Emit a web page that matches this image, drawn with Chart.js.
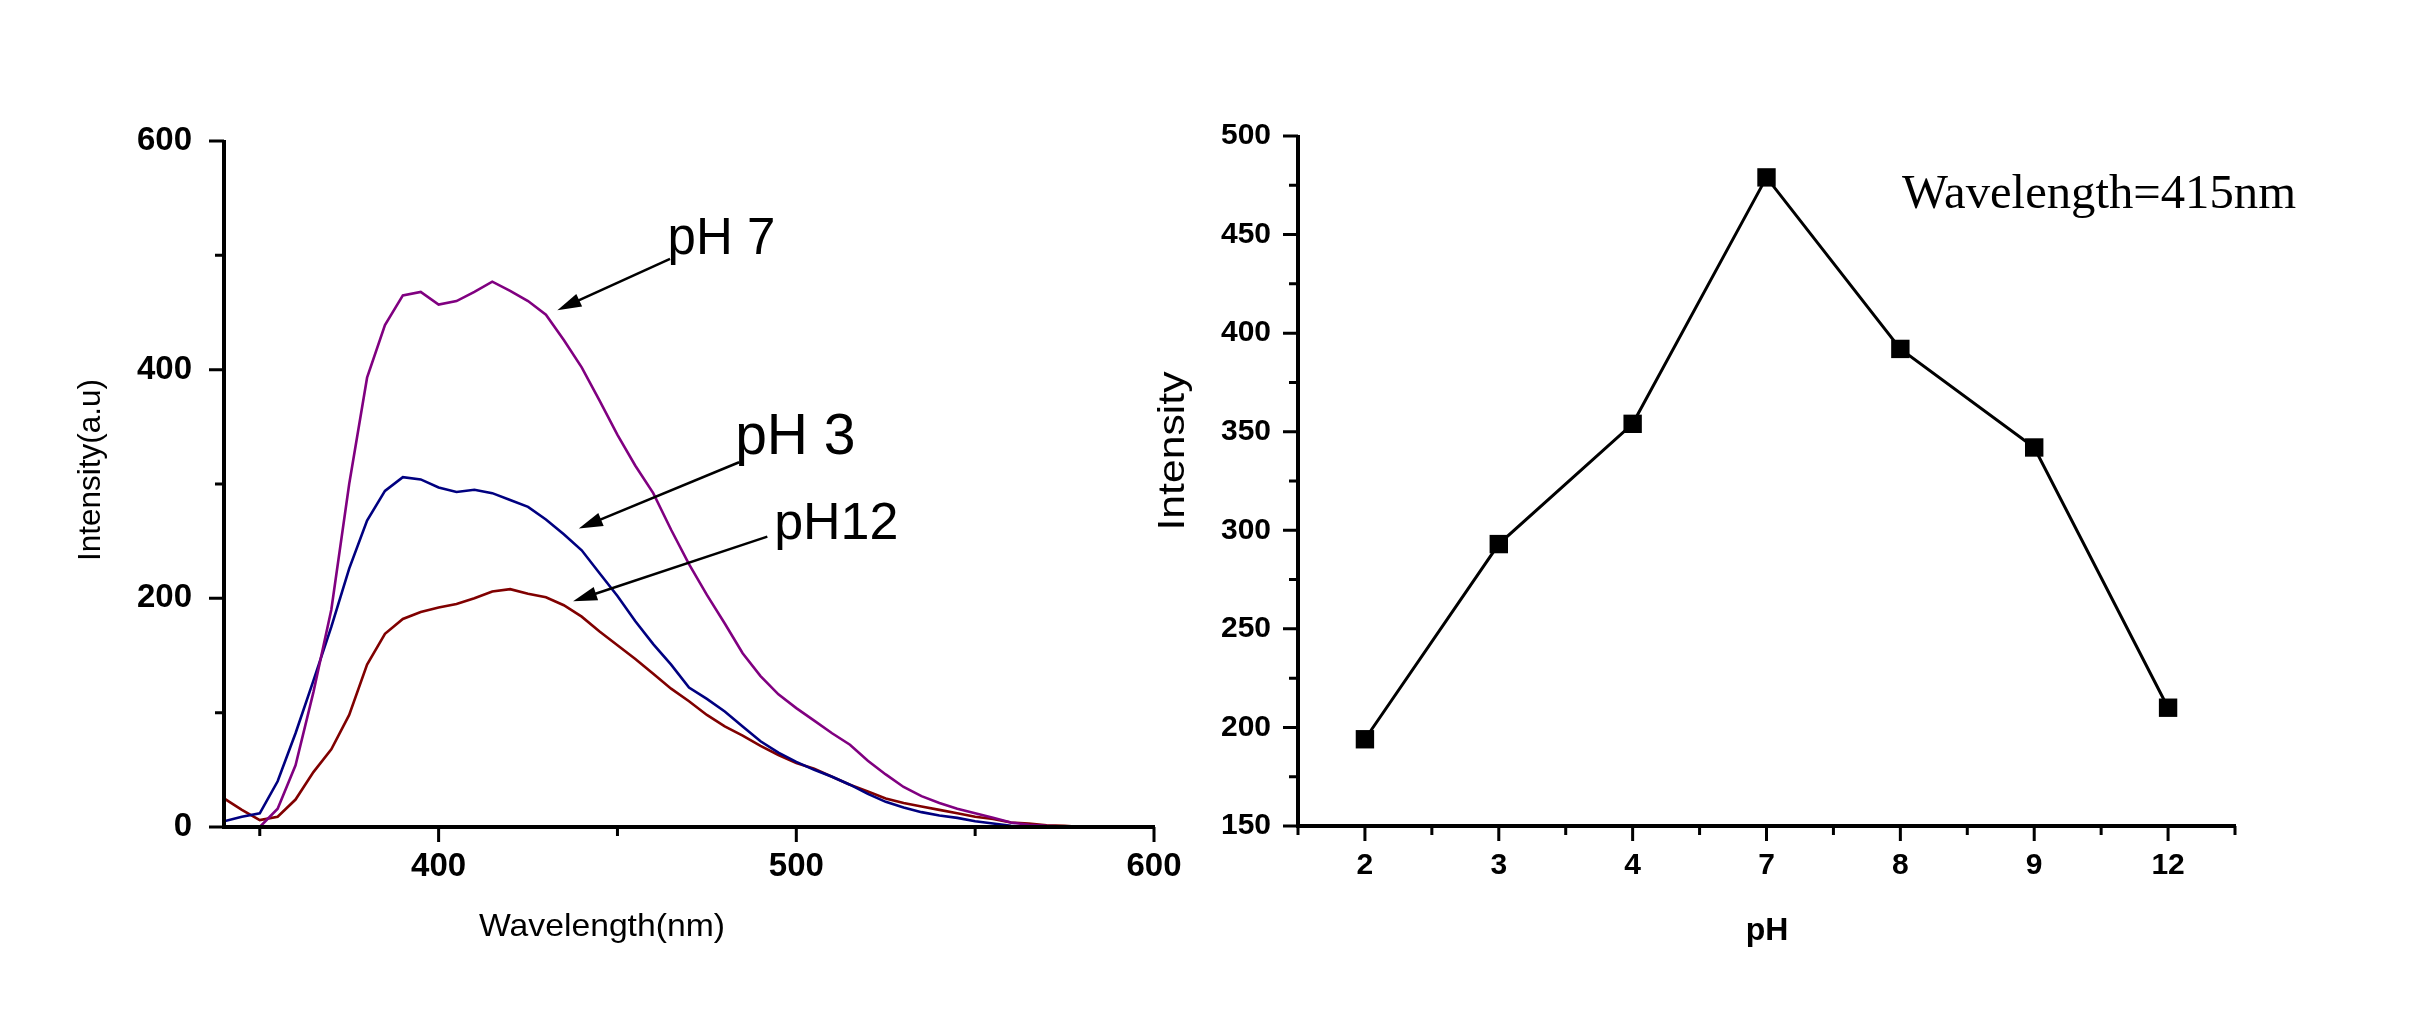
<!DOCTYPE html>
<html>
<head>
<meta charset="utf-8">
<script src="https://cdn.jsdelivr.net/npm/chart.js@4.4.0/dist/chart.umd.min.js"></script>
<style>
  body { margin: 0; background: #fff; width: 2428px; height: 1015px; overflow: hidden; position: relative; }
  canvas { position: absolute; top: 0; }
  #spectra { left: 0; }
  #phChart { left: 1130px; }
</style>
</head>
<body>
<canvas id="spectra" width="1214" height="1015"></canvas>
<canvas id="phChart" width="1298" height="1015"></canvas>
<script>
// emission spectra
const wavelengths = [340, 345, 350, 355, 360, 365, 370, 375, 380, 385, 390, 395, 400, 405, 410, 415, 420, 425, 430, 435,
  440, 445, 450, 455, 460, 465, 470, 475, 480, 485, 490, 495, 500, 505, 510, 515, 520, 525, 530, 535,
  540, 545, 550, 555, 560, 565, 570, 575, 580, 585, 590, 595, 600];
const ph7 = [null, null, 0, 16, 54, 118, 190, 300, 393, 439, 465, 468, 457, 460, 468, 477, 469, 460, 448, 426,
  402, 373, 343, 316, 292, 260, 230, 203, 178, 152, 132, 116, 104, 93, 82, 72, 58, 46, 35, 27,
  21, 16, 12, 8, 4, 2, 1, 0.5, 0, 0, 0, null, null];
const ph3 = [5, 9, 12, 40, 82, 128, 175, 226, 268, 294, 306, 304, 297, 293, 295, 292, 286, 280, 269, 256,
  242, 222, 202, 180, 160, 142, 122, 112, 101, 88, 75, 65, 57, 50, 44, 37, 29, 22, 17, 13,
  10, 8, 5, 3, 1, 0, 0, null, null, null, null, null, null];
const ph12 = [25, 15, 6, 9, 24, 48, 68, 98, 142, 169, 182, 188, 192, 195, 200, 206, 208, 204, 201, 194,
  184, 171, 159, 147, 134, 121, 110, 98, 88, 80, 71, 63, 56, 51, 44, 37, 31, 25, 21, 18,
  15, 12, 9, 7, 4, 3, 1.5, 1, 0, 0, 0, null, null];

// intensity at 415 nm vs pH, right panel
const phLabels = ['2', '3', '4', '7', '8', '9', '12'];
const intensity415 = [194, 293, 354, 479, 392, 342, 210];

const specMajorX = [400, 500, 600];
const specMinorX = [350, 450, 550];
const specMajorY = [0, 200, 400, 600];
const specMinorY = [100, 300, 500];
const phMajorY = [150, 200, 250, 300, 350, 400, 450, 500];
const phMinorY = [175, 225, 275, 325, 375, 425, 475];

const SANS = "'Liberation Sans', Arial, sans-serif";
const SERIF = "'Liberation Serif', 'Times New Roman', serif";

function drawText(ctx, t) {
  ctx.save();
  ctx.font = t.font;
  ctx.fillStyle = '#000';
  ctx.textAlign = t.align || 'center';
  ctx.textBaseline = 'alphabetic';
  const k = t.width ? t.width / ctx.measureText(t.text).width : 1;
  ctx.translate(t.x, t.y);
  if (t.rotate) ctx.rotate(t.rotate);
  ctx.scale(k, 1);
  ctx.fillText(t.text, 0, 0);
  ctx.restore();
}

const axisFrame = {
  id: 'axisFrame',
  afterDatasetsDraw(chart, args, o) {
    const ctx = chart.ctx, a = chart.chartArea;
    const sx = chart.scales.x, sy = chart.scales.y;
    ctx.save();
    ctx.strokeStyle = '#000';
    ctx.lineWidth = 4;
    ctx.beginPath();
    ctx.moveTo(a.left, a.top - 1);
    ctx.lineTo(a.left, a.bottom + 2);
    ctx.moveTo(a.left - 2, a.bottom);
    ctx.lineTo(a.right + 1, a.bottom);
    ctx.stroke();
    ctx.lineWidth = 3;
    ctx.beginPath();
    o.xMajor.forEach(v => { const p = sx.getPixelForValue(v); ctx.moveTo(p, a.bottom); ctx.lineTo(p, a.bottom + 15); });
    o.xMinor.forEach(v => { const p = sx.getPixelForValue(v); ctx.moveTo(p, a.bottom); ctx.lineTo(p, a.bottom + 9); });
    o.yMajor.forEach(v => { const p = sy.getPixelForValue(v); ctx.moveTo(a.left, p); ctx.lineTo(a.left - 15, p); });
    o.yMinor.forEach(v => { const p = sy.getPixelForValue(v); ctx.moveTo(a.left, p); ctx.lineTo(a.left - 9, p); });
    ctx.stroke();
    ctx.restore();
  }
};

const textLayer = {
  id: 'textLayer',
  afterDraw(chart, args, o) {
    const ctx = chart.ctx, sx = chart.scales.x, sy = chart.scales.y;
    (o.arrows || []).forEach(ar => {
      const x1 = sx.getPixelForValue(ar.tail[0]), y1 = sy.getPixelForValue(ar.tail[1]);
      const x2 = sx.getPixelForValue(ar.tip[0]), y2 = sy.getPixelForValue(ar.tip[1]);
      const ang = Math.atan2(y2 - y1, x2 - x1);
      ctx.save();
      ctx.strokeStyle = '#000';
      ctx.fillStyle = '#000';
      ctx.lineWidth = 2.5;
      ctx.beginPath();
      ctx.moveTo(x1, y1);
      ctx.lineTo(x2 - 18 * Math.cos(ang), y2 - 18 * Math.sin(ang));
      ctx.stroke();
      ctx.translate(x2, y2);
      ctx.rotate(ang);
      ctx.beginPath();
      ctx.moveTo(0, 0);
      ctx.lineTo(-24, -7);
      ctx.lineTo(-24, 7);
      ctx.closePath();
      ctx.fill();
      ctx.restore();
    });
    (o.notes || []).forEach(n => drawText(ctx, {
      text: n.text, font: n.font, align: 'left',
      x: sx.getPixelForValue(n.at[0]), y: sy.getPixelForValue(n.at[1])
    }));
    (o.texts || []).forEach(t => drawText(ctx, t));
  }
};

function toPoints(values) {
  return wavelengths.map((w, i) => ({ x: w, y: values[i] }));
}

const tickFontL = { family: SANS, size: 33, weight: 'bold' };
const tickFontR = { family: SANS, size: 30, weight: 'bold' };

new Chart(document.getElementById('spectra'), {
  type: 'line',
  data: {
    datasets: [
      { label: 'pH 7', data: toPoints(ph7), borderColor: '#800080' },
      { label: 'pH 3', data: toPoints(ph3), borderColor: '#000080' },
      { label: 'pH12', data: toPoints(ph12), borderColor: '#800000' }
    ]
  },
  options: {
    responsive: false,
    animation: false,
    layout: { padding: { left: 0, top: 141, right: 60, bottom: 0 } },
    elements: { point: { radius: 0 }, line: { borderWidth: 2.6, tension: 0, fill: false } },
    plugins: {
      legend: { display: false },
      tooltip: { enabled: false },
      axisFrame: { xMajor: specMajorX, xMinor: specMinorX, yMajor: specMajorY, yMinor: specMinorY },
      textLayer: {
        arrows: [
          { tail: [464.7, 497], tip: [433.2, 452] },
          { tail: [484, 319], tip: [439.2, 261] },
          { tail: [491.9, 254], tip: [437.6, 197.5] }
        ],
        notes: [
          { text: 'pH 7', at: [464, 501], font: '51px ' + SANS },
          { text: 'pH 3', at: [482.9, 326], font: '57px ' + SANS },
          { text: 'pH12', at: [493.8, 252], font: '52px ' + SANS }
        ],
        texts: [
          { text: 'Intensity(a.u)', x: 100, y: 470, rotate: -Math.PI / 2, font: '32px ' + SANS, width: 182 },
          { text: 'Wavelength(nm)', x: 602, y: 936, font: '32px ' + SANS, width: 246 }
        ]
      }
    },
    scales: {
      x: {
        type: 'linear', min: 340, max: 600,
        grid: { display: false }, border: { display: false },
        afterFit: s => { s.height = 188; },
        afterBuildTicks: s => { s.ticks = specMajorX.map(v => ({ value: v })); },
        ticks: { font: tickFontL, color: '#000', padding: 12, maxRotation: 0 }
      },
      y: {
        min: 0, max: 600,
        grid: { display: false }, border: { display: false },
        afterFit: s => { s.width = 224; },
        afterBuildTicks: s => { s.ticks = specMajorY.map(v => ({ value: v })); },
        ticks: { font: tickFontL, color: '#000', padding: 24 }
      }
    }
  },
  plugins: [axisFrame, textLayer]
});

new Chart(document.getElementById('phChart'), {
  type: 'line',
  data: {
    labels: phLabels,
    datasets: [{
      label: 'Intensity',
      data: intensity415,
      borderColor: '#000',
      borderWidth: 3,
      pointStyle: 'rect',
      pointRadius: 13,
      pointBackgroundColor: '#000',
      pointBorderWidth: 0,
      tension: 0
    }]
  },
  options: {
    responsive: false,
    animation: false,
    layout: { padding: { left: 0, top: 136, right: 193, bottom: 0 } },
    plugins: {
      legend: { display: false },
      tooltip: { enabled: false },
      axisFrame: {
        xMajor: phLabels.map((l, i) => i),
        xMinor: phLabels.map((l, i) => i - 0.5).concat([phLabels.length - 0.5]),
        yMajor: phMajorY, yMinor: phMinorY
      },
      textLayer: {
        texts: [
          { text: 'Intensity', x: 1184 - 1130, y: 451, rotate: -Math.PI / 2, font: '36px ' + SANS, width: 159 },
          { text: 'pH', x: 1767 - 1130, y: 940, font: 'bold 32px ' + SANS },
          { text: 'Wavelength=415nm', x: 1902 - 1130, y: 208, align: 'left', font: '48px ' + SERIF, width: 394 }
        ]
      }
    },
    scales: {
      x: {
        type: 'category', offset: true,
        grid: { display: false }, border: { display: false },
        afterFit: s => { s.height = 189; },
        ticks: { font: tickFontR, color: '#000', padding: 14, maxRotation: 0 }
      },
      y: {
        min: 150, max: 500,
        grid: { display: false }, border: { display: false },
        afterFit: s => { s.width = 168; },
        afterBuildTicks: s => { s.ticks = phMajorY.map(v => ({ value: v })); },
        ticks: { font: tickFontR, color: '#000', padding: 19 }
      }
    }
  },
  plugins: [axisFrame, textLayer]
});
</script>
</body>
</html>
